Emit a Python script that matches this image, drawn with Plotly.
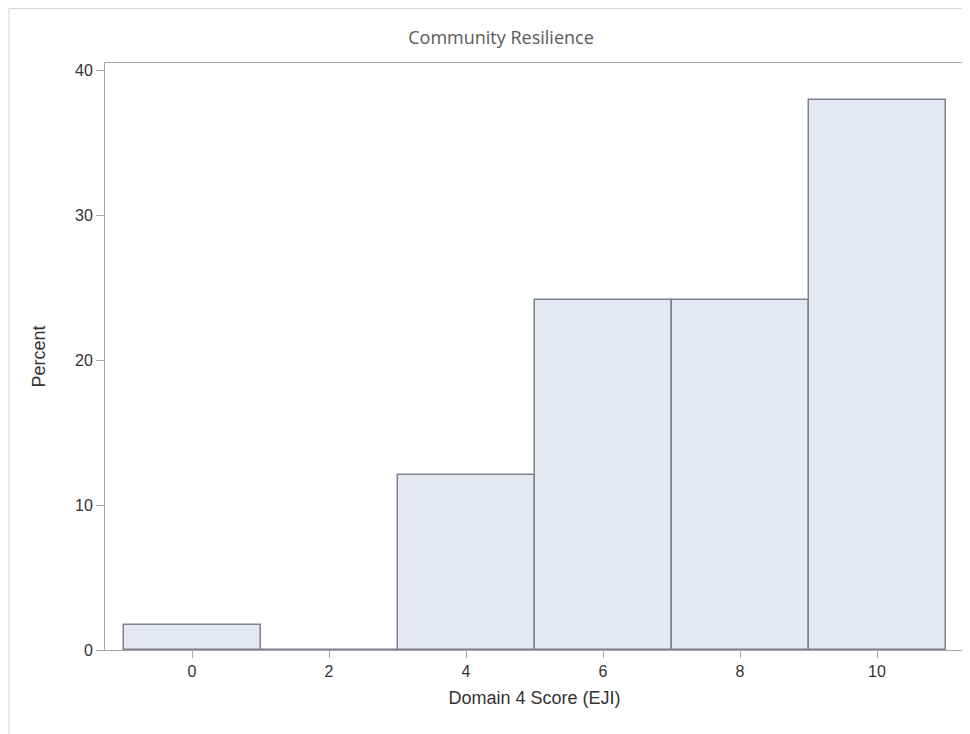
import plotly.graph_objects as go

bin_centers = [0, 2, 4, 6, 8, 10]
percent = [1.72, 0.0, 12.07, 24.14, 24.14, 37.93]
x_ticks = [0, 2, 4, 6, 8, 10]
y_ticks = [0, 10, 20, 30, 40]

fig = go.Figure()
fig.add_trace(go.Bar(
    x=bin_centers, y=percent, width=2,
    marker=dict(color="#e3e8f1", line=dict(color="#7d8290", width=1.5)),
    hoverinfo="x+y",
))

# the page body adds an 8px offset; figure is sized so the plot area lands where the reference has it
W, H = 962, 726
L, R, T, B = 97, 6, 55, 84
axis_col = "#a8a8a8"
fig.update_layout(
    width=W, height=H,
    margin=dict(l=L, r=R, t=T, b=B),
    paper_bgcolor="white", plot_bgcolor="white",
    showlegend=False,
    bargap=0,
    title=dict(text="Community Resilience", x=493 / W, xref="container", xanchor="center",
               y=1 - 30 / H, yref="container", yanchor="middle",
               font=dict(family="Open Sans, Noto Sans, sans-serif", size=18, color="#5a5a5a")),
    font=dict(family="Liberation Sans, Arial, sans-serif", size=16, color="#333333"),
)
fig.update_xaxes(
    range=[-1.27, 11.27], tickvals=x_ticks, ticks="outside", ticklen=7, tickcolor=axis_col,
    showline=True, linecolor=axis_col, linewidth=1, mirror=True, showgrid=False, zeroline=False,
    title=dict(text="Domain 4 Score (EJI)", standoff=12, font=dict(size=18, color="#333333")),
    tickfont=dict(size=16, color="#333333"),
)
fig.update_yaxes(
    range=[0, 40.5], tickvals=y_ticks, ticks="outside", ticklen=8, tickcolor=axis_col,
    showline=True, linecolor=axis_col, linewidth=1, mirror=True, showgrid=False, zeroline=False,
    title=dict(text="Percent", standoff=24, font=dict(size=18, color="#333333")),
    tickfont=dict(size=16, color="#333333"),
)

# outer frame (light gray border of the original graphic), in page pixel coordinates
pw, ph = W - L - R, H - T - B
def px(xp):
    return (xp - 105) / pw
def py(yp):
    return (650 - yp) / ph
fig.add_shape(type="line", xref="paper", yref="paper", x0=px(9), x1=px(9), y0=py(8.5), y1=py(740),
              line=dict(color="#d4d4d4", width=1))
fig.add_shape(type="line", xref="paper", yref="paper", x0=px(9), x1=px(975), y0=py(8.5), y1=py(8.5),
              line=dict(color="#d4d4d4", width=1))

fig.write_html("out.html")
